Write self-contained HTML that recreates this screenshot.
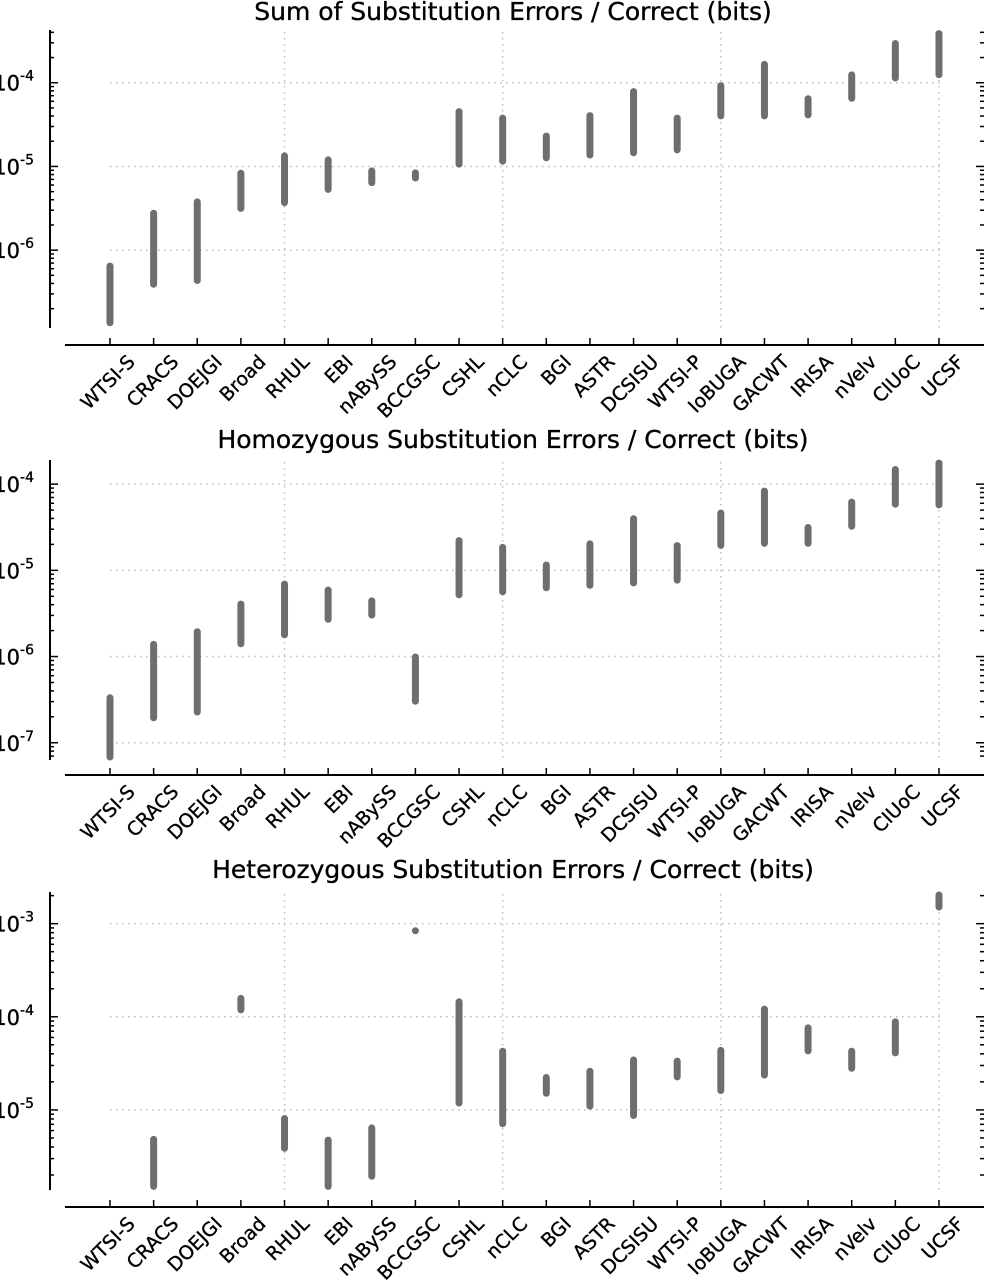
<!DOCTYPE html>
<html><head><meta charset="utf-8"><style>
html,body{margin:0;padding:0;background:#fff;}
svg{display:block;font-family:"DejaVu Sans","Liberation Sans",sans-serif;}
text{stroke:#000;stroke-width:0.35px;}
</style></head><body>
<svg id="chart" width="984" height="1280" viewBox="0 0 984 1280" xmlns="http://www.w3.org/2000/svg"></svg>
<script>
const categories = ["WTSI-S","CRACS","DOEJGI","Broad","RHUL","EBI","nABySS","BCCGSC","CSHL","nCLC","BGI","ASTR","DCSISU","WTSI-P","IoBUGA","GACWT","IRISA","nVelv","CIUoC","UCSF"];
const titles = ["Sum of Substitution Errors / Correct (bits)","Homozygous Substitution Errors / Correct (bits)","Heterozygous Substitution Errors / Correct (bits)"];
const sumLow  = [1.25e-7,3.6e-7,4.0e-7,2.9e-6,3.4e-6,4.9e-6,5.9e-6,6.7e-6,9.8e-6,1.07e-5,1.17e-5,1.26e-5,1.34e-5,1.45e-5,3.7e-5,3.7e-5,3.8e-5,6.0e-5,1.05e-4,1.15e-4];
const sumHigh = [7.0e-7,3.0e-6,4.1e-6,9.0e-6,1.45e-5,1.3e-5,9.6e-6,9.1e-6,4.9e-5,4.1e-5,2.5e-5,4.4e-5,8.5e-5,4.1e-5,1.0e-4,1.8e-4,7.0e-5,1.35e-4,3.2e-4,4.2e-4];
const homLow  = [6.3e-8,1.8e-7,2.1e-7,1.3e-6,1.65e-6,2.5e-6,2.8e-6,2.8e-7,4.8e-6,5.2e-6,5.8e-6,6.2e-6,6.6e-6,7.1e-6,1.8e-5,1.9e-5,1.9e-5,3.0e-5,5.4e-5,5.3e-5];
const homHigh = [3.6e-7,1.5e-6,2.1e-6,4.4e-6,7.5e-6,6.4e-6,4.8e-6,1.07e-6,2.4e-5,2.0e-5,1.25e-5,2.2e-5,4.3e-5,2.1e-5,5.0e-5,9.0e-5,3.4e-5,6.7e-5,1.6e-4,1.9e-4];
const hetLow  = [null,1.4e-6,null,1.1e-4,3.6e-6,1.4e-6,1.8e-6,8.4e-4,1.1e-5,6.6e-6,1.4e-5,1.02e-5,8.1e-6,2.1e-5,1.5e-5,2.2e-5,4.0e-5,2.6e-5,3.8e-5,1.4e-3];
const hetHigh = [null,5.2e-6,null,1.7e-4,8.7e-6,5.1e-6,6.9e-6,8.4e-4,1.56e-4,4.6e-5,2.4e-5,2.8e-5,3.7e-5,3.6e-5,4.7e-5,1.3e-4,8.2e-5,4.6e-5,9.5e-5,2.4e-3];
const sumTicks = [-6,-5,-4];
const homTicks = [-7,-6,-5,-4];
const hetTicks = [-5,-4,-3];

const NS="http://www.w3.org/2000/svg";
const svg=document.getElementById('chart');
function mk(tag,attrs,parent){const e=document.createElementNS(NS,tag);for(const k in attrs)e.setAttribute(k,attrs[k]);(parent||svg).appendChild(e);return e;}

const panels=[
 {lo:sumLow,hi:sumHigh,ticks:sumTicks,title:titles[0],top:30,bot:328,eTop:-3.37,eBot:-6.93,axisY:345,titleY:12,name:'sum'},
 {lo:homLow,hi:homHigh,ticks:homTicks,title:titles[1],top:460,bot:760,eTop:-3.72,eBot:-7.20,axisY:775,titleY:440,name:'homozygous'},
 {lo:hetLow,hi:hetHigh,ticks:hetTicks,title:titles[2],top:892,bot:1190,eTop:-2.66,eBot:-5.86,axisY:1207,titleY:870,name:'heterozygous'}
];
function xPos(i){return 110+i*43.63;}

panels.forEach(p=>{
 const g=mk('g',{});
 
 
 const yPos=v=>{const e=Math.log10(v);return p.top+(p.eTop-e)/(p.eTop-p.eBot)*(p.bot-p.top);};
 const yE=e=>p.top+(p.eTop-e)/(p.eTop-p.eBot)*(p.bot-p.top);
 const t=mk('text',{x:513,y:p.titleY+8,'text-anchor':'middle','font-size':25,fill:'#000'},g);
 t.textContent=p.title;
 
 
 p.ticks.forEach(e=>{
  const y=yE(e);
  const gl=mk('line',{x1:110,x2:940,y1:y,y2:y,stroke:'#bbb','stroke-width':1.5,'stroke-dasharray':'1.5 4.5'},g);
  
  
  const lb=mk('text',{x:34,y:y+8,'text-anchor':'end','font-size':21,fill:'#000'},g);
  
  
  const a=mk('tspan',{},lb);a.textContent='10';
  const b=mk('tspan',{'font-size':14,dy:-10},lb);b.textContent=String(e);
 });
 [4,9,14,19].forEach(i=>{
  const vl=mk('line',{x1:xPos(i),x2:xPos(i),y1:p.top+2,y2:p.bot,stroke:'#bbb','stroke-width':1.5,'stroke-dasharray':'1.5 4.5'},g);
  
  
 });
 const ya=mk('line',{x1:50,x2:50,y1:p.top,y2:p.bot,stroke:'#000','stroke-width':2},g);
 
 
 for(let e=Math.floor(p.eBot);e<=Math.ceil(p.eTop);e++){
  for(let m=1;m<10;m++){
   const ee=e+Math.log10(m);
   if(ee<p.eBot||ee>p.eTop)continue;
   const y=yE(ee);const L=m===1?8:4;
   mk('line',{x1:50,x2:50+L,y1:y,y2:y,stroke:'#000','stroke-width':1.5},g);
   mk('line',{x1:984,x2:984-L,y1:y,y2:y,stroke:'#000','stroke-width':1.5},g);
  }
 }
 const xa=mk('line',{x1:65,x2:984,y1:p.axisY,y2:p.axisY,stroke:'#000','stroke-width':2},g);
 
 
 categories.forEach((c,i)=>{
  const x=xPos(i);
  mk('line',{x1:x,x2:x,y1:p.axisY,y2:p.axisY-7,stroke:'#000','stroke-width':1.5},g);
  const lb=mk('text',{x:x+26,y:p.axisY+18,'text-anchor':'end','font-size':19,fill:'#000',transform:`rotate(-45 ${x+26} ${p.axisY+18})`},g);
  lb.textContent=c;
  
  
  if(p.lo[i]==null)return;
  let y1=Math.max(p.top,Math.min(p.bot,yPos(p.hi[i])));
  let y2=Math.max(p.top,Math.min(p.bot,yPos(p.lo[i])));
  const bar=mk('line',{x1:x,x2:x,y1:y1+3,y2:y2-3,stroke:'#6e6e6e','stroke-width':7,'stroke-linecap':'round'},g);
  if(y2-y1<6){bar.setAttribute('y1',y1);bar.setAttribute('y2',y2);}
  
  
 });
});
</script>
</body></html>
